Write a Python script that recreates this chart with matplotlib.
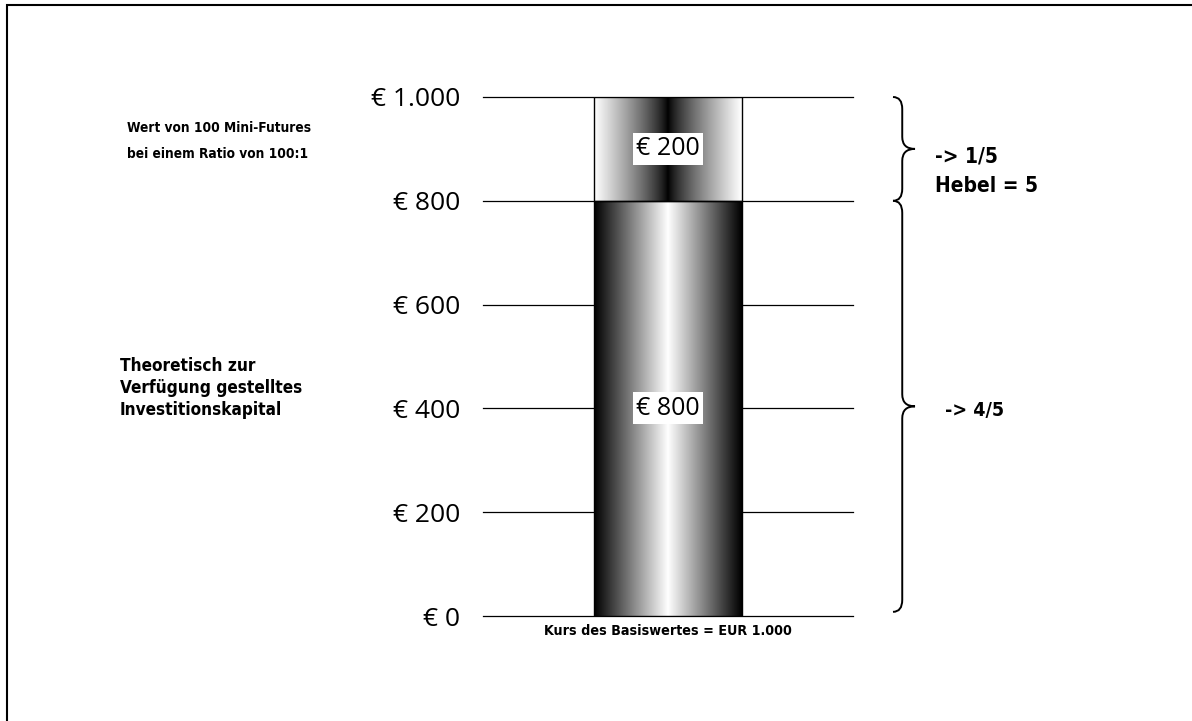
import numpy as np
import matplotlib
matplotlib.use('Agg')
import matplotlib.pyplot as plt
from matplotlib.path import Path
from matplotlib.patches import PathPatch, Rectangle
from matplotlib.transforms import IdentityTransform

# data
category = ['Kurs des Basiswertes = EUR 1.000']
capital = [800]      # theoretisch zur Verfügung gestelltes Kapital
futures = [200]      # Wert von 100 Mini-Futures
yticks = [0, 200, 400, 600, 800, 1000]
ytick_labels = ['€ 0', '€ 200', '€ 400', '€ 600', '€ 800', '€ 1.000']

narrow = dict(family='DejaVu Sans', fontstretch='condensed', fontweight='bold')
plain = ['Open Sans', 'DejaVu Sans']

fig = plt.figure(figsize=(11.92, 7.21), dpi=100)
# frame: only left and top edges fall inside the picture
fig.patches.append(Rectangle((7 / 1192, -0.1), 1.2, 1.1 - 5 / 721, transform=fig.transFigure,
                             fill=False, edgecolor='black', linewidth=1.5))
ax = fig.add_axes([483 / 1192, 1 - 616 / 721, 370 / 1192, 519 / 721])

x = np.arange(len(category))
b1 = ax.bar(x, capital, width=0.4, color='none', edgecolor='black', linewidth=1.0, zorder=3)
b2 = ax.bar(x, futures, bottom=capital, width=0.4, color='none', edgecolor='black',
            linewidth=1.0, zorder=3)

# gradients inside the bars
t = np.linspace(0, 1, 256)
prof_low = 1 - np.abs(2 * t - 1)
prof_high = np.abs(2 * t - 1) ** 0.8
for bars, prof in [(b1, prof_low), (b2, prof_high)]:
    for p in bars:
        im = ax.imshow(prof[np.newaxis, :], cmap='gray', vmin=0, vmax=1, aspect='auto',
                       extent=[p.get_x(), p.get_x() + p.get_width(), p.get_y(), p.get_y() + p.get_height()],
                       interpolation='bilinear', zorder=2)
        im.set_clip_path(p)

for bars, vals in [(b1, capital), (b2, futures)]:
    for p, v in zip(bars, vals):
        ax.text(p.get_x() + p.get_width() / 2, p.get_y() + p.get_height() / 2, f'€ {v}',
                ha='center', va='center', fontsize=18, family=plain, zorder=4,
                bbox=dict(facecolor='white', edgecolor='none', pad=2.5))

ax.set_xlim(-0.5, 0.5)
ax.set_ylim(0, 1000)
ax.set_yticks(yticks)
ax.set_yticklabels(ytick_labels, family=plain, fontsize=19)
ax.set_xticks(x)
ax.set_xticklabels(category, fontsize=10.3, **narrow)
ax.tick_params(axis='y', length=0, pad=16.5)
ax.tick_params(axis='x', length=0, pad=6)
ax.yaxis.grid(True, color='black', linewidth=0.9)
for gl in ax.get_ygridlines():
    gl.set_clip_on(False)
ax.set_axisbelow(True)
for s in ax.spines.values():
    s.set_visible(False)

# left side notes
fig.text(127 / 1192, 1 - 141 / 721, 'Wert von 100 Mini-Futures\nbei einem Ratio von 100:1',
         fontsize=9.8, va='center', linespacing=2.1, **narrow)
fig.text(120 / 1192, 1 - 388 / 721, 'Theoretisch zur\nVerfügung gestelltes\nInvestitionskapital',
         fontsize=12.3, va='center', linespacing=1.28, **narrow)


def brace(v_top, v_bot, xl, w):
    fig.canvas.draw()
    y1 = ax.transData.transform((0, v_top))[1]
    y0 = ax.transData.transform((0, v_bot))[1]
    ym = (y0 + y1) / 2
    r = 12
    xm = xl + w * 0.42
    verts = [(xl, y1), (xm, y1), (xm, y1 - r),
             (xm, ym + r), (xm, ym), (xl + w, ym),
             (xm, ym), (xm, ym - r),
             (xm, y0 + r), (xm, y0), (xl, y0)]
    codes = [Path.MOVETO, Path.CURVE3, Path.CURVE3,
             Path.LINETO, Path.CURVE3, Path.CURVE3,
             Path.CURVE3, Path.CURVE3,
             Path.LINETO, Path.CURVE3, Path.CURVE3]
    fig.patches.append(PathPatch(Path(verts, codes), transform=IdentityTransform(),
                                 fill=False, edgecolor='black', linewidth=1.4))


brace(futures[0] + capital[0], capital[0], 893, 22)
brace(capital[0], 8, 893, 22)

fig.text(935 / 1192, 1 - 171 / 721, '-> 1/5\nHebel = 5', fontsize=15,
         va='center', linespacing=1.6, **narrow)
fig.text(945 / 1192, 1 - 411 / 721, '-> 4/5', fontsize=14, va='center', **narrow)

fig.savefig('out.png', dpi=100)
